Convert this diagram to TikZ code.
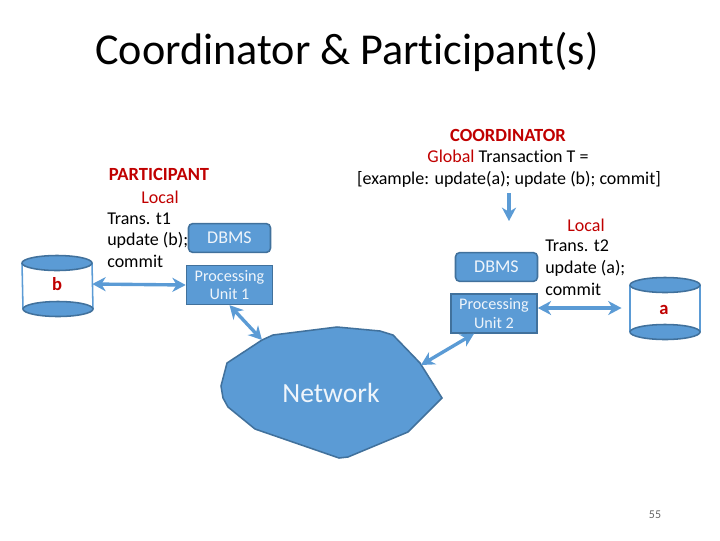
\documentclass[tikz,border=0pt]{standalone}
\usepackage{fontspec}
\setmainfont[Ligatures=NoCommon]{Carlito}
\usetikzlibrary{arrows.meta}
\definecolor{netblue}{HTML}{5B9BD5}
\definecolor{netedge}{HTML}{41719C}
\definecolor{lblred}{HTML}{C00000}
\tikzset{
  unitbox/.style={draw=netedge,fill=netblue,line width=1.1pt,text=white!90!netblue,align=center,font=\fontsize{11.5}{13}\selectfont,inner sep=0pt},
  dbmsbox/.style={unitbox,rounded corners=3pt,font=\fontsize{12.8}{13}\selectfont,minimum width=2.05cm,minimum height=0.72cm},
  link/.style={color=netblue,line width=2.4pt,arrows={Stealth[length=9.5pt,width=10pt,inset=3pt]-Stealth[length=9.5pt,width=10pt,inset=3pt]}},
  lbl/.style={font=\fontsize{12.8}{15.4}\selectfont,inner sep=0pt,text height=10pt,text depth=1.2pt},
  boldlbl/.style={lbl,color=lblred,font=\fontsize{13.2}{15.4}\bfseries\selectfont}
}
\begin{document}
\begin{tikzpicture}[x=0.025cm,y=-0.025cm]
\useasboundingbox (0,0) rectangle (720,540);
\node[font=\fontsize{31.4}{36}\selectfont,inner sep=0pt] (title) at (347,52) {Coordinator \& Participant(s)};
% left site
\draw[color=netblue,line width=1.1pt] (22,263) -- (23,309);
\draw[color=netblue,line width=1.1pt] (92,263) -- (93,309);
\fill[fill=netblue] (57,263) ellipse (35 and 7.5);
\draw[color=netedge,line width=1.1pt] (57,263) ellipse (35 and 7.5);
\fill[fill=netblue] (58,309) ellipse (35 and 7.5);
\draw[color=netedge,line width=1.1pt] (58,309) ellipse (35 and 7.5);
\node[boldlbl,minimum width=1.75cm] (dbb) at (57,284) {b};
\node[boldlbl] (parthead) at (159,174) {PARTICIPANT};
\node[lbl,color=lblred] (partlocal) at (160,197) {Local};
\node[lbl,right] (partt) at (107,218) {Trans. t1};
\node[lbl,right] (partu) at (107,239) {update (b);};
\node[lbl,right] (partc) at (107,261) {commit};
\node[dbmsbox] (dbmsa) at (229.500,238) {DBMS};
\node[unitbox,minimum width=2.15cm,minimum height=0.97cm] (pua) at (229.500,285) {Processing\\Unit 1};
% right site
\draw[color=netblue,line width=1.1pt] (630,285) -- (630,332);
\draw[color=netblue,line width=1.1pt] (700,285) -- (700,332);
\fill[fill=netblue] (665,285) ellipse (35 and 7.5);
\draw[color=netedge,line width=1.1pt] (665,285) ellipse (35 and 7.5);
\fill[fill=netblue] (665,332) ellipse (35 and 7.5);
\draw[color=netedge,line width=1.1pt] (665,332) ellipse (35 and 7.5);
\node[boldlbl,minimum width=1.75cm] (dba) at (664,308) {a};
\node[boldlbl] (coordhead) at (508,135) {COORDINATOR};
\node[lbl] (coordglobal) at (508,156) {\textcolor{lblred}{Global} Transaction T =};
\node[lbl] (coordex) at (509,178) {[example: update(a); update (b); commit]};
\node[lbl,color=lblred] (coordlocal) at (586,225) {Local};
\node[lbl,right] (coordt) at (545,245) {Trans. t2};
\node[lbl,right] (coordu) at (545,267) {update (a);};
\node[lbl,right] (coordc) at (545,289) {commit};
\node[dbmsbox] (dbmsb) at (496.500,267) {DBMS};
\node[unitbox,minimum width=2.15cm,minimum height=0.97cm] (pub) at (494,313.500) {Processing\\Unit 2};
% network cloud
\coordinate (netl) at (262,340);
\coordinate (netr) at (421,365);
\draw[draw=netedge,fill=netblue,line width=1.1pt] (netl) -- (273,335) -- (337,327) -- (380,331) -- (393,335) -- (420,363) -- (442,398) -- (408,432) -- (348,457) -- (339,458) -- (255,429) -- (228,407) -- (223,398) -- (221,386) -- (227,363) -- cycle;
\node[inner sep=0pt,text=white!90!netblue,font=\fontsize{19.7}{22}\selectfont] (net) at (331,393) {Network};
\node[inner sep=0pt,color=black!60,font=\fontsize{8.5}{10}\selectfont] (pagenum) at (655,515) {55};
% connectors
\draw[link] (dbb.east) -- (pua.west);
\draw[link,shorten >=0.18cm] (pub.east |- dba.west) -- (dba.west);
\draw[link] (pua.south) -- (netl);
\draw[link] (pub.south) ++(-20,0) coordinate (pubfoot) (pubfoot) -- (netr);
\draw[color=netblue,line width=2.4pt,-{Stealth[length=9.5pt,width=10pt,inset=3pt]},shorten <=0.18cm,shorten >=0.77cm] (coordex) -- (dbmsb.north -| coordex);
\end{tikzpicture}
\end{document}
